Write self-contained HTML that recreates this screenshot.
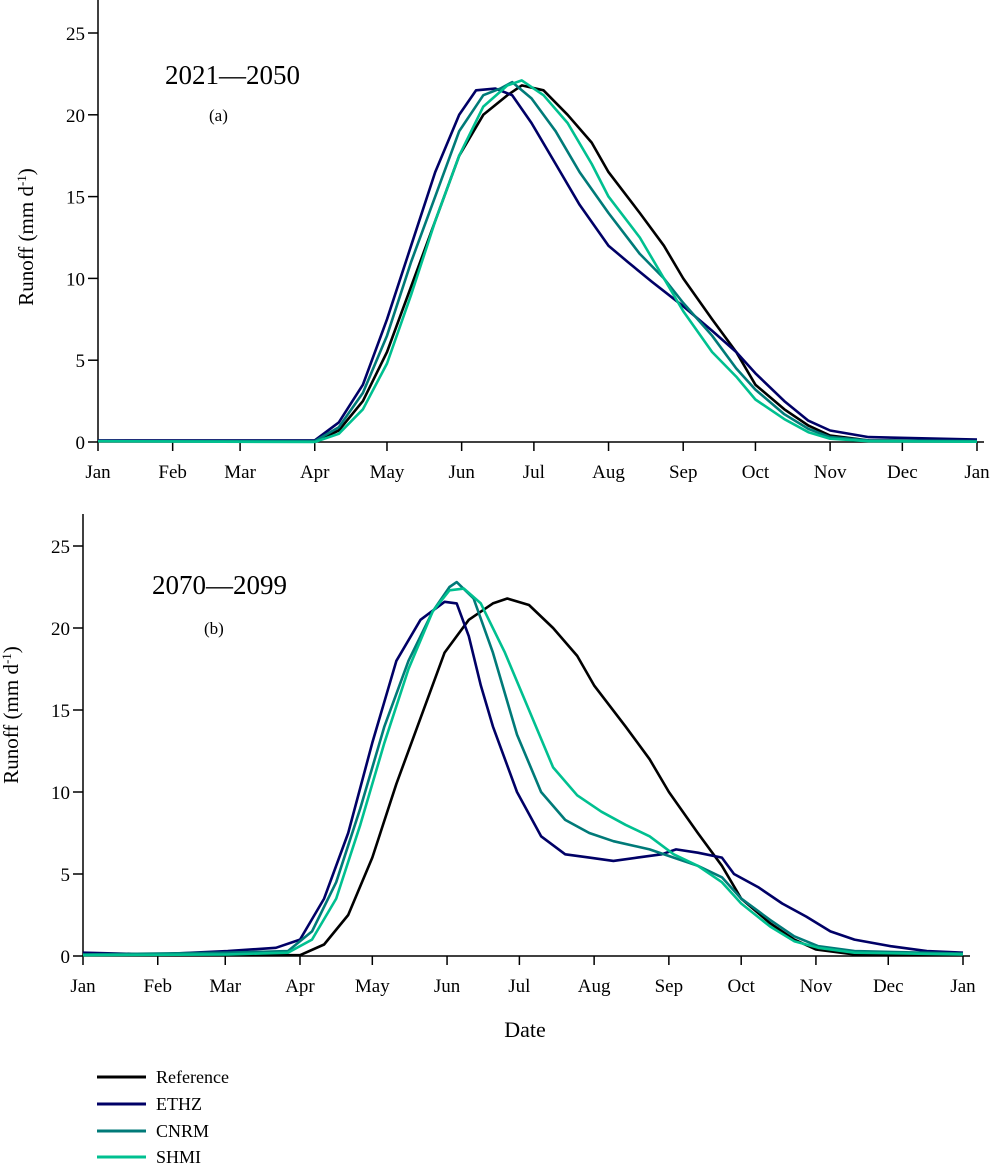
<!DOCTYPE html>
<html><head><meta charset="utf-8"><style>
body{margin:0;background:#fff;}
svg text{font-family:"Liberation Serif",serif;fill:#000;}
</style></head><body>
<svg id="chart" width="992" height="1164" viewBox="0 0 992 1164" xmlns="http://www.w3.org/2000/svg"></svg>
<script>
const months=["Jan","Feb","Mar","Apr","May","Jun","Jul","Aug","Sep","Oct","Nov","Dec","Jan"];
const monthDays=[0,31,59,90,120,151,181,212,243,273,304,334,365];
const yTicks=[0,5,10,15,20,25];
const seriesNames=["Reference","ETHZ","CNRM","SHMI"];
const seriesColors=["#000000","#000066","#007a78","#00c090"];
// panel a
const aRefDays=[0,90,100,110,120,130,140,150,160,170,176,185,195,205,212,225,235,243,255,265,273,285,295,304,320,365];
const aRefVals=[0.05,0.05,0.7,2.5,5.5,9.5,13.5,17.5,20,21.2,21.8,21.5,20,18.3,16.5,14,12,10,7.5,5.5,3.5,2,1,0.4,0.1,0.05];
const aEthDays=[0,90,100,110,120,130,140,150,157,165,172,180,190,200,212,220,230,243,255,265,273,285,295,304,320,365];
const aEthVals=[0.1,0.1,1.2,3.5,7.5,12,16.5,20,21.5,21.6,21.2,19.5,17,14.5,12,11,9.8,8.3,6.8,5.5,4.2,2.5,1.3,0.7,0.3,0.15];
const aCnrDays=[0,90,100,110,120,130,140,150,160,167,172,180,190,200,212,225,235,243,255,265,273,285,295,304,320,365];
const aCnrVals=[0.05,0.05,0.9,3,6.5,11,15,19,21.2,21.6,22,21,19,16.5,14,11.5,10,8.5,6.5,4.5,3.2,1.7,0.8,0.3,0.1,0.05];
const aShmDays=[0,90,100,110,120,130,140,150,160,170,176,185,195,205,212,225,235,243,255,265,273,285,295,304,320,365];
const aShmVals=[0.05,0,0.5,2,4.8,9,13.5,17.5,20.5,21.8,22.1,21.2,19.5,17,15,12.5,10,8,5.5,4,2.6,1.4,0.6,0.2,0.05,0.02];
// panel b
const bRefDays=[0,90,100,110,120,130,140,150,160,170,176,185,195,205,212,225,235,243,255,265,273,285,295,304,320,365];
const bRefVals=[0.05,0.05,0.7,2.5,6,10.5,14.5,18.5,20.5,21.5,21.8,21.4,20,18.3,16.5,14,12,10,7.5,5.5,3.5,2,1,0.4,0.1,0.05];
const bEthDays=[0,30,60,80,90,100,110,120,130,140,150,155,160,165,170,180,190,200,210,220,230,240,246,255,265,270,280,290,300,310,320,335,350,365];
const bEthVals=[0.2,0.1,0.3,0.5,1,3.5,7.5,13,18,20.5,21.6,21.5,19.5,16.5,14,10,7.3,6.2,6,5.8,6,6.2,6.5,6.3,6,5,4.2,3.2,2.4,1.5,1,0.6,0.3,0.2];
const bCnrDays=[0,60,85,95,105,115,125,135,145,152,155,162,170,180,190,200,210,220,235,245,255,265,273,285,295,305,320,365];
const bCnrVals=[0.1,0.2,0.3,1.5,4.5,9,14,18,21,22.5,22.8,21.8,18.5,13.5,10,8.3,7.5,7,6.5,6,5.5,4.8,3.5,2.2,1.2,0.6,0.3,0.15];
const bShmDays=[0,60,85,95,105,115,125,135,145,152,158,165,175,185,195,205,215,225,235,245,255,265,273,285,295,305,320,365];
const bShmVals=[0.05,0.1,0.2,1,3.5,8,13,17.5,21,22.3,22.4,21.5,18.5,15,11.5,9.8,8.8,8,7.3,6.2,5.5,4.5,3.2,1.8,0.9,0.5,0.2,0.1];

const NS="http://www.w3.org/2000/svg";
const svg=document.getElementById('chart');
function el(tag,attrs,parent){const e=document.createElementNS(NS,tag);for(const k in attrs)e.setAttribute(k,attrs[k]);(parent||svg).appendChild(e);return e;}

function panel(cfg){
  const g=el('g',{});
  
  
  const xs=d=>cfg.x0+d*(cfg.x1-cfg.x0)/365;
  const ys=v=>cfg.y0-v*(cfg.y0-cfg.y25)/25;
  const ax=el('line',{x1:cfg.x0,y1:cfg.y0,x2:cfg.xEnd,y2:cfg.y0,stroke:'#000','stroke-width':1.5},g);
  
  
  const ay=el('line',{x1:cfg.x0,y1:cfg.y0,x2:cfg.x0,y2:cfg.yTop,stroke:'#000','stroke-width':1.5},g);
  
  
  yTicks.forEach(t=>{
    el('line',{x1:cfg.x0-10,y1:ys(t),x2:cfg.x0,y2:ys(t),stroke:'#000','stroke-width':1.5},g);
    const tx=el('text',{x:cfg.x0-13,y:ys(t)+7,'text-anchor':'end','font-size':19},g);
    tx.textContent=t;
    
    
  });
  monthDays.forEach((d,i)=>{
    el('line',{x1:xs(d),y1:cfg.y0,x2:xs(d),y2:cfg.y0+9,stroke:'#000','stroke-width':1.5},g);
    const tx=el('text',{x:xs(d),y:cfg.y0+36,'text-anchor':'middle','font-size':19},g);
    tx.textContent=months[i];
    
    
  });
  cfg.series.forEach((s,i)=>{
    const pts=s[0].map((d,j)=>xs(d).toFixed(1)+','+ys(s[1][j]).toFixed(1)).join(' ');
    const p=el('polyline',{points:pts,fill:'none',stroke:seriesColors[i],'stroke-width':2.6,'stroke-linejoin':'round'},g);
    
    
  });
  const yl=el('text',{x:0,y:0,'text-anchor':'middle','font-size':21,transform:`translate(${cfg.ylx},${cfg.yly}) rotate(-90)`},g);
  yl.innerHTML='Runoff (mm d<tspan baseline-shift="super" font-size="13">-1</tspan>)';
  
  
  const t=el('text',{x:cfg.tx,y:cfg.ty,'font-size':27},g);
  t.textContent=cfg.title;
  
  
  const l=el('text',{x:cfg.lx,y:cfg.ly,'font-size':17},g);
  l.textContent=cfg.label;
  
  
}
panel({name:'panel-a',x0:98,x1:977,xEnd:984,y0:442,y25:33,yTop:0,ylx:33,yly:237,
  tx:165,ty:84,title:'2021\u20142050',lx:209,ly:121,label:'(a)',
  series:[[aRefDays,aRefVals],[aEthDays,aEthVals],[aCnrDays,aCnrVals],[aShmDays,aShmVals]]});
panel({name:'panel-b',x0:83,x1:963,xEnd:970,y0:956,y25:546,yTop:514,ylx:18,yly:715,
  tx:152,ty:594,title:'2070\u20142099',lx:204,ly:634,label:'(b)',
  series:[[bRefDays,bRefVals],[bEthDays,bEthVals],[bCnrDays,bCnrVals],[bShmDays,bShmVals]]});

const dt=el('text',{x:525,y:1037,'text-anchor':'middle','font-size':22});
dt.textContent='Date';



const legY=[1077,1104,1131,1157];
seriesNames.forEach((n,i)=>{
  const g=el('g',{});
  
  
  el('line',{x1:97,y1:legY[i],x2:146,y2:legY[i],stroke:seriesColors[i],'stroke-width':3},g);
  const t=el('text',{x:156,y:legY[i]+6,'font-size':18},g);
  t.textContent=n;
});
</script>
</body></html>
